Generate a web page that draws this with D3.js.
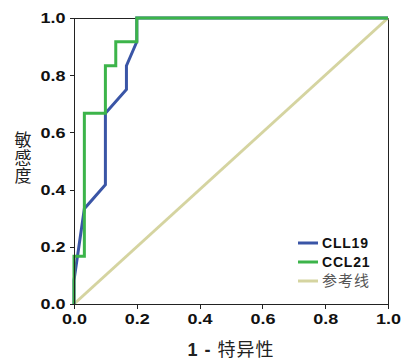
<!DOCTYPE html>
<head>
    <meta charset="utf-8">
    <title>ROC</title>
    <script src="https://d3js.org/d3.v7.min.js"></script>
    <style>
        body{ margin: 0; background: #ffffff; }
        text{ font-family: "Liberation Sans", Arial, sans-serif; }
        .tick text{ font-size: 15px; font-weight: 700; fill: #111111; }
        .tick line, path.domain{ stroke: #222222; stroke-width: 1; shape-rendering: crispEdges; }
        text.cjk{ font-family: "Noto Sans CJK SC", sans-serif; fill: #222222; }
        text.legend{ font-size: 14px; font-weight: 700; fill: #111111; }
    </style>
</head>
<body>
<script>
    // ROC points
    const cll19X = [0, 0, 0.033, 0.1, 0.1, 0.167, 0.167, 0.2, 0.2, 1];
    const cll19Y = [0, 0.083, 0.333, 0.417, 0.667, 0.75, 0.833, 0.917, 1, 1];
    const ccl21X = [0, 0, 0.033, 0.033, 0.1, 0.1, 0.133, 0.133, 0.2, 0.2, 1];
    const ccl21Y = [0, 0.167, 0.167, 0.667, 0.667, 0.833, 0.833, 0.917, 0.917, 1, 1];
    const refX = [0, 1];
    const refY = [0, 1];
    const ticks = [0, 0.2, 0.4, 0.6, 0.8, 1.0];
    const seriesNames = ["CLL19", "CCL21", "参考线"];
    const seriesColors = ["#3a55a6", "#3cb44a", "#d5d4a0"];

    const width = 403, height = 360;
    const margin = {top: 18, right: 15, bottom: 56, left: 74};

    const svg = d3.select("body").append("svg")
        .attr("width", width)
        .attr("height", height);

    let x = d3.scaleLinear().domain([0, 1]).range([margin.left, width - margin.right]);
    let y = d3.scaleLinear().domain([0, 1]).range([height - margin.bottom, margin.top]);

    // frame
    svg.append("rect")
        .attr("x", x(0))
        .attr("y", y(1))
        .attr("width", x(1) - x(0))
        .attr("height", y(0) - y(1))
        .style("fill", "none")
        .style("stroke", "#222222")
        .style("shape-rendering", "crispEdges");

    let line = d3.line().x(d => x(d[0])).y(d => y(d[1]));
    const series = [
        d3.zip(refX, refY),
        d3.zip(cll19X, cll19Y),
        d3.zip(ccl21X, ccl21Y)
    ];
    const order = [2, 0, 1];

    series.forEach((s, i) => {
        svg.append("path")
            .datum(s)
            .attr("d", line)
            .style("fill", "none")
            .style("stroke", seriesColors[order[i]])
            .style("stroke-width", 3)
            .style("stroke-linejoin", "miter");
    });

    // the original's text looks a bit stretched sideways
    svg.append("g")
        .attr("transform", `translate(0, ${y(0)})`)
        .call(d3.axisBottom(x).tickValues(ticks).tickSize(5).tickPadding(4).tickFormat(d3.format(".1f")))
        .selectAll(".tick text")
        .attr("transform", "scale(1.2,1)");

    svg.append("g")
        .attr("transform", `translate(${x(0)}, 0)`)
        .call(d3.axisLeft(y).tickValues(ticks).tickSize(4).tickPadding(3).tickFormat(d3.format(".1f")))
        .selectAll(".tick text")
        .attr("transform", "scale(1.2,1)");

    // x title
    svg.append("text")
        .attr("class", "cjk")
        .attr("x", (x(0) + x(1)) / 2)
        .attr("y", 356)
        .style("text-anchor", "middle")
        .style("font-size", "18px")
        .style("letter-spacing", "1px")
        .html('<tspan style="font-family: Liberation Sans, sans-serif; font-weight: 700">1 - </tspan>特异性');

    // y title, written top to bottom
    svg.append("text")
        .attr("class", "cjk")
        .attr("x", 23)
        .attr("y", 131)
        .style("writing-mode", "vertical-rl")
        .style("font-size", "17px")
        .style("letter-spacing", "1px")
        .text("敏感度");

    // legend
    const legend = svg.append("g").attr("transform", "translate(298, 243)");
    seriesNames.forEach((name, i) => {
        legend.append("line")
            .attr("x1", 0).attr("x2", 20)
            .attr("y1", i * 19).attr("y2", i * 19)
            .style("stroke", seriesColors[i])
            .style("stroke-width", 3);
        legend.append("text")
            .attr("class", i == 2 ? "cjk" : "legend")
            .attr("x", 24)
            .attr("y", i * 19 + 5)
            .style("font-size", i == 2 ? "15px" : null)
            .style("letter-spacing", i == 2 ? "1px" : "0.8px")
            .style("fill", i == 2 ? "#555555" : null)
            .text(name);
    });
</script>
</body>
